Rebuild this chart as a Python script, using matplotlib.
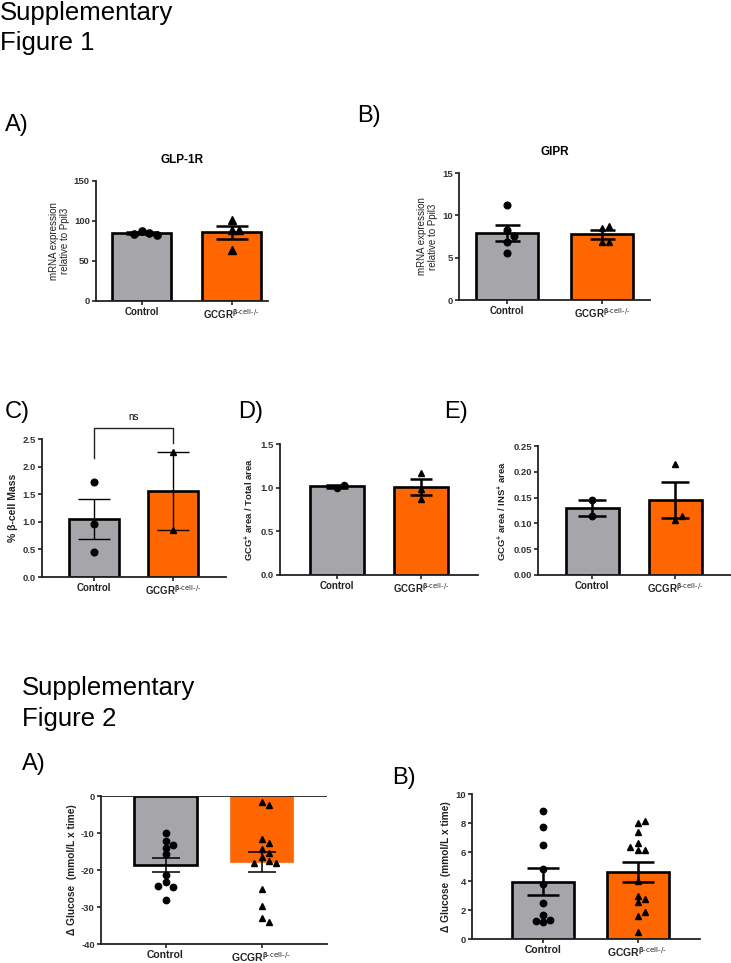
import numpy as np
import matplotlib.pyplot as plt
from matplotlib.ticker import FormatStrFormatter

plt.rcParams['font.family'] = ['Liberation Sans', 'DejaVu Sans']
plt.rcParams['mathtext.default'] = 'regular'

W, H = 731, 963
GREY = '#a5a5aa'
ORANGE = '#ff6600'

groups = ['Control', r'GCGR$^{\beta\text{-cell-/-}}$']

# values (each point = one animal)
glp1r_ctrl = [87.0, 85.5, 84.0, 83.0]
glp1r_ko = [101.3, 88.9, 88.9, 64.0]
gipr_ctrl = [11.2, 8.3, 7.6, 6.9, 5.6]
gipr_ko = [8.5, 8.7, 6.9, 6.9]
bmass_ctrl = [1.73, 0.96, 0.46]
bmass_ko = [2.27, 0.85]
gcg_tot_ctrl = [1.00, 1.03]
gcg_tot_ko = [1.17, 0.98, 0.87]
gcg_ins_ctrl = [0.145, 0.115]
gcg_ins_ko = [0.2157, 0.1075, 0.114]
s2a_ctrl = [-10.1, -12.2, -14.0, -15.8, -13.3, -21.3, -23.2, -24.6, -24.2, -28.0]
s2a_ko = [-1.5, -2.4, -11.5, -12.8, -14.2, -15.5, -16.6, -17.6, -18.2, -18.2,
          -25.0, -29.8, -33.1, -34.0]
s2b_ctrl = [8.85, 7.7, 6.47, 4.82, 3.8, 2.5, 1.15, 1.33, 1.65, 1.26]
s2b_ko = [7.98, 8.12, 7.36, 6.65, 6.15, 6.15, 6.33, 3.97, 2.94, 2.52, 2.73,
          1.56, 1.83, 0.46]

fig = plt.figure(figsize=(W / 100, H / 100), dpi=100)


def swarm(ax, x0, vals, d_px):
    # simple greedy beeswarm in pixel space
    tr = ax.transData
    ppx = tr.transform((1, 0))[0] - tr.transform((0, 0))[0]
    placed, offs = [], []
    cands = [0.0]
    for i in range(1, 12):
        cands += [i * 1.1, -i * 1.1]
    for v in vals:
        y = tr.transform((0, v))[1]
        for c in cands:
            xp = c * d_px
            if all((xp - a) ** 2 + (y - b) ** 2 >= (0.95 * d_px) ** 2 for a, b in placed):
                break
        placed.append((xp, y))
        offs.append(x0 + xp / ppx)
    return offs


def panel(L, R, T, B, c0, c1, bw, ylim, yticks, ctrl, ko, ylabel, fmt='%d',
          ms=5.0, cap=14, elw=1.8, tfs=6.8, xfs=7.0, yfs=7.0, ybold=False,
          ko_edge='black'):
    ax = fig.add_axes([L / W, 1 - B / H, (R - L) / W, (B - T) / H])
    sc = c1 - c0
    ax.set_xlim((L - c0) / sc, (R - c0) / sc)
    ax.set_ylim(*ylim)
    means = [np.mean(ctrl), np.mean(ko)]
    sems = [np.std(ctrl, ddof=1) / np.sqrt(len(ctrl)),
            np.std(ko, ddof=1) / np.sqrt(len(ko))]
    ax.bar([0], [means[0]], width=bw / sc, color=GREY, edgecolor='black',
           linewidth=1.9, zorder=2)
    ax.bar([1], [means[1]], width=bw / sc, color=ORANGE, edgecolor=ko_edge,
           linewidth=1.9 if ko_edge == 'black' else 0.8, zorder=2)
    d_px = ms / 0.72
    for i, (vals, mk) in enumerate([(ctrl, 'o'), (ko, '^')]):
        xs = swarm(ax, i, vals, d_px)
        ax.plot(xs, vals, ls='none', marker=mk, ms=ms, color='black', zorder=4,
                clip_on=False)
    for i in range(2):
        ax.errorbar(i, means[i], yerr=sems[i], color='black', lw=elw,
                    capsize=cap * 0.72, capthick=elw, zorder=5)
    for s in ['top', 'right']:
        ax.spines[s].set_visible(False)
    for s in ['left', 'bottom']:
        ax.spines[s].set_linewidth(1.3)
        ax.spines[s].set_color('#222222')
    ax.set_yticks(yticks)
    ax.yaxis.set_major_formatter(FormatStrFormatter(fmt))
    ax.set_xticks([0, 1])
    ax.set_xticklabels(groups, fontweight='bold', fontsize=xfs)
    ax.tick_params(axis='both', direction='out', length=3, width=1.2,
                   colors='#222222', pad=1.5)
    ax.tick_params(axis='y', labelsize=tfs)
    for lab in ax.get_yticklabels():
        lab.set_fontweight('bold')
        lab.set_color('#333333')
    ax.set_ylabel(ylabel, fontsize=yfs, fontweight='bold' if ybold else 'normal',
                  color='#222222', labelpad=3, linespacing=1.05)
    return ax


# ---------- Supplementary Figure 1 ----------
fig.text(0 / W, 1 - 20 / H, 'Supplementary', fontsize=18.5, va='baseline')
fig.text(0 / W, 1 - 50 / H, 'Figure 1', fontsize=18.5, va='baseline')

lab = dict(fontsize=17, va='baseline')
fig.text(5 / W, 1 - 131 / H, 'A)', **lab)
fig.text(357 / W, 1 - 122 / H, 'B)', **lab)
fig.text(5 / W, 1 - 418 / H, 'C)', **lab)
fig.text(238 / W, 1 - 418 / H, 'D)', **lab)
fig.text(444 / W, 1 - 418 / H, 'E)', **lab)

axA = panel(96, 268, 181, 301, 141.5, 231.5, 59, (0, 150), [0, 50, 100, 150],
            glp1r_ctrl, glp1r_ko, 'mRNA expression\nrelative to Ppil3', cap=16,
            ms=5.2)
axA.set_title('GLP-1R', fontsize=8.5, fontweight='bold', pad=13)

axB = panel(459, 650, 173, 300, 507, 602, 62, (0, 15), [0, 5, 10, 15],
            gipr_ctrl, gipr_ko, 'mRNA expression\nrelative to Ppil3', ms=4.8, cap=12.5)
axB.set_title('GIPR', fontsize=8.5, fontweight='bold', pad=13)

axC = panel(42, 226, 439, 577, 94, 173, 50, (0, 2.5), np.arange(0, 2.51, 0.5),
            bmass_ctrl, bmass_ko, '% β-cell Mass', fmt='%.1f', ms=4.8, cap=16,
            elw=1.0, yfs=7.5, ybold=True)
axC.plot([0, 0, 1, 1], [2.16, 2.70, 2.70, 2.43], color='#222222', lw=1.0,
         clip_on=False)
axC.text(0.5, 2.80, 'ns', ha='center', va='bottom', fontsize=7)

axD = panel(280, 478, 444, 575, 337, 421, 54, (0, 1.5), [0, 0.5, 1.0, 1.5],
            gcg_tot_ctrl, gcg_tot_ko, r'GCG$^{+}$ area / Total area', fmt='%.1f',
            ms=4.4, cap=11, ybold=True, yfs=6.8)

axE = panel(538, 731, 446, 575, 592, 675, 53, (0, 0.25), np.arange(0, 0.251, 0.05),
            gcg_ins_ctrl, gcg_ins_ko, r'GCG$^{+}$ area / INS$^{+}$ area', fmt='%.2f',
            ms=4.6, cap=14, ybold=True, yfs=6.8)

# ---------- Supplementary Figure 2 ----------
fig.text(22 / W, 1 - 695 / H, 'Supplementary', fontsize=18.5, va='baseline')
fig.text(22 / W, 1 - 726 / H, 'Figure 2', fontsize=18.5, va='baseline')
fig.text(22 / W, 1 - 770 / H, 'A)', **lab)
fig.text(392 / W, 1 - 784 / H, 'B)', **lab)

ax2A = panel(101, 327, 796, 944, 165.5, 261.5, 63, (-40, 0), [-40, -30, -20, -10, 0],
             s2a_ctrl, s2a_ko, 'Δ Glucose  (mmol/L x time)', ms=4.6, cap=14,
             elw=1.1, xfs=7.5, yfs=7.3, ybold=True, ko_edge='#f08040')
ax2A.axhline(0, color='#222222', lw=1.3, zorder=3)

ax2B = panel(472, 700, 794, 939, 543, 637.5, 62, (0, 10), [0, 2, 4, 6, 8, 10],
             s2b_ctrl, s2b_ko, 'Δ Glucose  (mmol/L x time)', ms=4.6, cap=16,
             xfs=7.5, yfs=7.3, ybold=True)

fig.savefig('out.png', dpi=100)
